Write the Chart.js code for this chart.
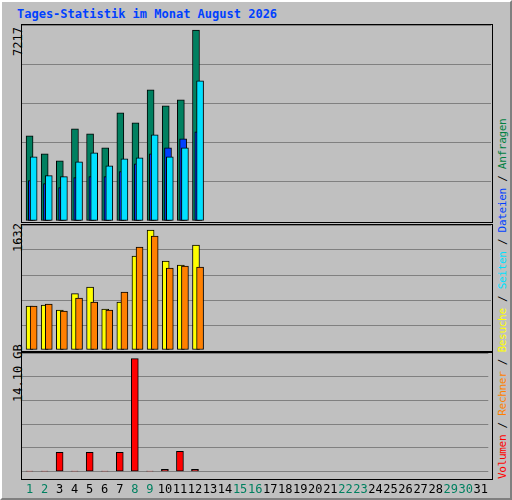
<!DOCTYPE html>
<html><head><meta charset="utf-8">
<script src="https://cdn.jsdelivr.net/npm/chart.js@4"></script>
<style>
body{margin:0;background:#fff;}
#box{position:absolute;left:0;top:0;width:508px;height:496px;background:#c0c0c0;border:2px solid;border-color:#fff #808080 #808080 #fff;font-family:"DejaVu Sans Mono",monospace;}
.pan{position:absolute;left:19px;width:470px;border:1px solid #000;}
canvas{position:absolute;}
.rot{position:absolute;transform:rotate(-90deg);transform-origin:left top;white-space:nowrap;font-size:12px;}
</style></head><body>
<div id="box">
<div style="position:absolute;left:15px;top:5px;color:#0040ff;font-weight:bold;font-size:12px;">Tages-Statistik im Monat August 2026</div>
<div class="pan" style="top:22px;height:197px;"></div>
<div class="pan" style="top:222px;height:126px;"></div>
<div class="pan" style="top:350px;height:126px;"></div>
<div class="rot" style="left:9px;top:54px;">7217</div>
<div class="rot" style="left:9px;top:250px;">1632</div>
<div class="rot" style="left:9px;top:400px;">14.10 GB</div>
<div class="rot" style="left:494px;top:477px;font-size:11px;letter-spacing:-0.3px;"><span style="color:#ff0000">Volumen</span> / <span style="color:#ff8000">Rechner</span> / <span style="color:#ffff00">Besuche</span> / <span style="color:#00e0ff">Seiten</span> / <span style="color:#0040ff">Dateien</span> / <span style="color:#008040">Anfragen</span></div>
<canvas id="c1" width="469" height="196" style="left:20px;top:23px"></canvas>
<canvas id="c2" width="469" height="125" style="left:20px;top:223px"></canvas>
<canvas id="c3" width="469" height="147" style="left:20px;top:351px"></canvas>
</div>
<script>
var days = [1,2,3,4,5,6,7,8,9,10,11,12];
var anfragen = [3220,2541,2277,3484,3295,2767,4087,3710,4954,4351,4577,7217];
var dateien = [1523,1410,1259,1636,1674,1674,1863,2164,2541,2767,3107,3371];
var seiten = [2428,1712,1674,2240,2579,2089,2353,2390,3258,2428,2767,5294];
var besuche = [598,612,544,766,857,558,653,1278,1632,1210,1156,1428];
var rechner = [598,626,530,707,653,544,789,1401,1550,1115,1142,1129];
var volumen = [0.05,0.05,2.40,0.05,2.40,0.05,2.40,14.10,0.05,0.28,2.52,0.28];
var dayLabels = [];
for (var d = 1; d <= 31; d++) dayLabels.push(String(d));
var weekend = [1,2,8,9,15,16,22,23,29,30];

function pts(vals, off){
    return vals.map(function(v, i){ return {x: days[i] + off, y: v}; });
}
function ds(vals, off, color, order){
    return {data: pts(vals, off), backgroundColor: color, borderColor: '#000', borderWidth: 1,
        borderSkipped: false, barThickness: 7, grouped: false, order: order};
}
function makeChart(id, sets, max, showX){
    return new Chart(document.getElementById(id), {
        type: 'bar',
        data: {datasets: sets},
        options: {
            responsive: false, animation: false,
            plugins: {legend: {display: false}, tooltip: {enabled: false}},
            layout: {padding: 0},
            scales: {
                x: {type: 'linear', min: 0.5, max: 31.5, offset: false, display: showX,
                    grid: {display: false}, border: {display: false},
                    afterBuildTicks: function(s){ s.ticks = dayLabels.map(function(l){ return {value: +l}; }); },
                    ticks: {autoSkip: false, maxRotation: 0, padding: 3,
                        font: {family: 'DejaVu Sans Mono', size: 12},
                        color: function(c){ return weekend.indexOf(c.tick.value) >= 0 ? '#008060' : '#000'; },
                        callback: function(v){ return dayLabels[v - 1]; }}},
                y: {min: 0, max: max, display: true,
                    ticks: {display: false, stepSize: max / 5}, border: {display: false},
                    grid: {color: '#808080', drawTicks: false, lineWidth: 1},
                    afterFit: function(s){ s.width = 0; }}
            }
        }
    });
}
makeChart('c1', [ds(anfragen, 0, '#008060', 3), ds(dateien, 0.15, '#0040ff', 2), ds(seiten, 0.27, '#00e0ff', 1)], 7217 * 196 / 191, false);
makeChart('c2', [ds(besuche, 0, '#ffff00', 2), ds(rechner, 0.27, '#ff8000', 1)], 1632 * 125 / 120, false);
makeChart('c3', [ds(volumen, 0, '#ff0000', 1)], 14.10 * 125 / 119, true);
</script>
</body></html>
